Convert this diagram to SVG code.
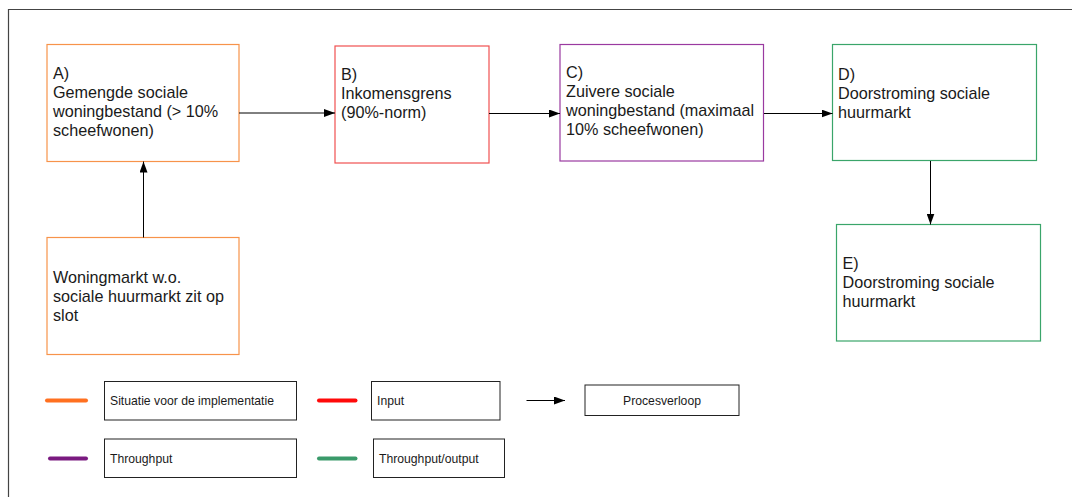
<svg xmlns="http://www.w3.org/2000/svg" width="1072" height="497" viewBox="0 0 1072 497">
<style>
.bg{fill:#ffffff}
.node{fill:#ffffff;stroke-width:1.2}
.t{font-family:"Liberation Sans",Arial,sans-serif;font-size:16.2px;fill:#1a1a1a}
.lt{font-family:"Liberation Sans",Arial,sans-serif;font-size:12.2px;fill:#1a1a1a}
.lbox{fill:#ffffff;stroke:#222;stroke-width:1}
.conn{stroke:#000;stroke-width:1;fill:none}
.leg{stroke-width:4;stroke-linecap:round;fill:none}
</style>
<defs>
<marker id="arr" viewBox="0 0 11 8" refX="11" refY="4" markerWidth="11" markerHeight="8" markerUnits="userSpaceOnUse" orient="auto">
<path d="M0,0 L11,4 L0,8 Z" fill="#000"/>
</marker>
</defs>
<rect class="bg" x="0" y="0" width="1072" height="497"/>
<path d="M8.5,497 L8.5,9.5 L1072,9.5" fill="none" stroke="#444" stroke-width="1.2"/>

<g id="nodeA">
<rect class="node" x="47" y="44.5" width="192" height="117" stroke="#f7934a"/>
<text class="t" x="53" y="79">A)</text>
<text class="t" x="53" y="98">Gemengde sociale</text>
<text class="t" x="53" y="117">woningbestand (&gt; 10%</text>
<text class="t" x="53" y="136">scheefwonen)</text>
</g>
<g id="nodeB">
<rect class="node" x="335" y="46" width="154" height="117" stroke="#f05050"/>
<text class="t" x="341" y="80">B)</text>
<text class="t" x="341" y="99">Inkomensgrens</text>
<text class="t" x="341" y="118">(90%-norm)</text>
</g>
<g id="nodeC">
<rect class="node" x="560" y="44.5" width="203.5" height="116.5" stroke="#9a3aa0"/>
<text class="t" x="566" y="78">C)</text>
<text class="t" x="566" y="97">Zuivere sociale</text>
<text class="t" x="566" y="116">woningbestand (maximaal</text>
<text class="t" x="566" y="135">10% scheefwonen)</text>
</g>
<g id="nodeD">
<rect class="node" x="832.5" y="44.5" width="204" height="116" stroke="#3aa56a"/>
<text class="t" x="838" y="80">D)</text>
<text class="t" x="838" y="99">Doorstroming sociale</text>
<text class="t" x="838" y="118">huurmarkt</text>
</g>
<g id="nodeE">
<rect class="node" x="836.5" y="224.5" width="204" height="116.5" stroke="#3aa56a"/>
<text class="t" x="842.5" y="269">E)</text>
<text class="t" x="842.5" y="288">Doorstroming sociale</text>
<text class="t" x="842.5" y="307">huurmarkt</text>
</g>
<g id="nodeW">
<rect class="node" x="47" y="237.5" width="192" height="117" stroke="#f7934a"/>
<text class="t" x="53" y="283">Woningmarkt w.o.</text>
<text class="t" x="53" y="302">sociale huurmarkt zit op</text>
<text class="t" x="53" y="321">slot</text>
</g>

<g id="connectors">
<line class="conn" x1="239" y1="113" x2="335" y2="113" marker-end="url(#arr)"/>
<line class="conn" x1="489" y1="113.5" x2="560" y2="113.5" marker-end="url(#arr)"/>
<line class="conn" x1="764" y1="113.5" x2="832.5" y2="113.5" marker-end="url(#arr)"/>
<line class="conn" x1="930.5" y1="161" x2="930.5" y2="224.5" marker-end="url(#arr)"/>
<line class="conn" x1="143.5" y1="237.5" x2="143.5" y2="161.5" marker-end="url(#arr)"/>
</g>

<g id="legend">
<line class="leg" x1="47" y1="400.5" x2="86" y2="400.5" stroke="#ff7020"/>
<rect class="lbox" x="104.5" y="381.5" width="192" height="38.5"/>
<text class="lt" x="110" y="404.5">Situatie voor de implementatie</text>
<line class="leg" x1="319" y1="400.5" x2="355.5" y2="400.5" stroke="#ff0a0a"/>
<rect class="lbox" x="371.5" y="381.5" width="128.5" height="38.5"/>
<text class="lt" x="377" y="404.5">Input</text>
<line class="conn" x1="526.5" y1="400.5" x2="565" y2="400.5" marker-end="url(#arr)"/>
<rect class="lbox" x="585" y="385" width="154" height="30.5"/>
<text class="lt" x="662" y="404.5" text-anchor="middle">Procesverloop</text>
<line class="leg" x1="50" y1="458.5" x2="86" y2="458.5" stroke="#7a1a80"/>
<rect class="lbox" x="104.5" y="439" width="192" height="38.5"/>
<text class="lt" x="110" y="462.5">Throughput</text>
<line class="leg" x1="319" y1="458.5" x2="355.5" y2="458.5" stroke="#3a9a6a"/>
<rect class="lbox" x="373.5" y="439" width="131" height="38.5"/>
<text class="lt" x="379" y="462.5">Throughput/output</text>
</g>
</svg>
